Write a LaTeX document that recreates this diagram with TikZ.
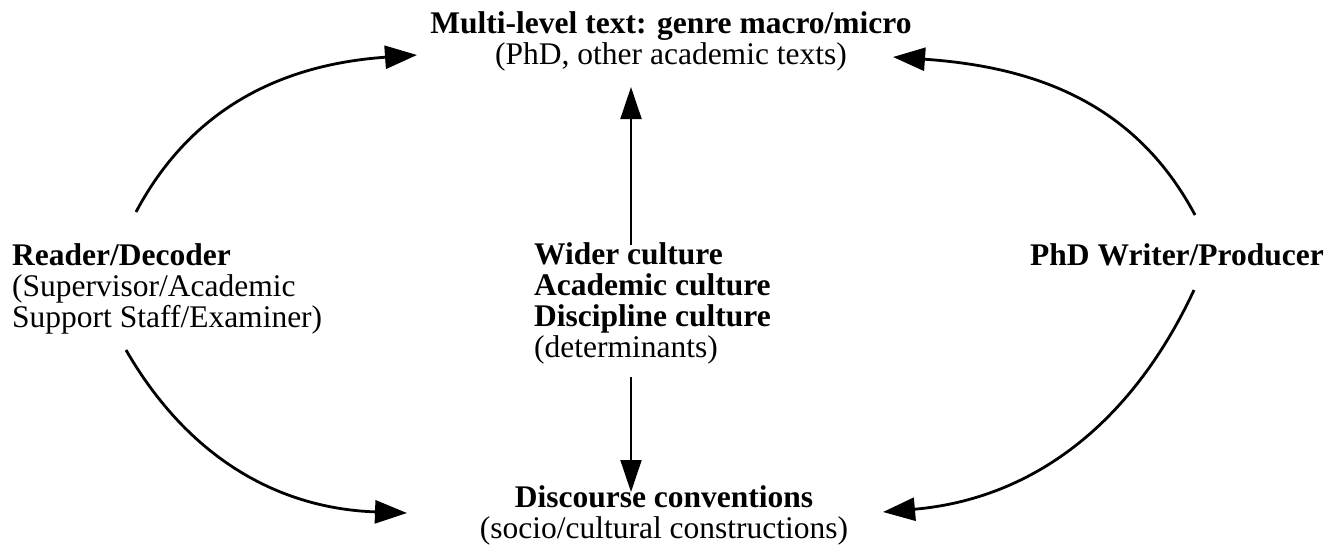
\documentclass[tikz,border=0pt]{standalone}
\usepackage{fontspec}
\setmainfont{Liberation Serif}
\usetikzlibrary{arrows.meta}

\tikzset{
  label text/.style={inner sep=0pt, font=\fontsize{31.5}{31}\selectfont},
  curved link/.style={line width=2.8pt, -{Triangle[length=32pt,width=23pt]}},
  straight link/.style={line width=2pt, -{Triangle[length=32pt,width=21pt]}}
}

\begin{document}
\begin{tikzpicture}[x=1pt,y=1pt]
\useasboundingbox (0,0) rectangle (1337,-554);

% text blocks (base anchor sits on the last line)
\node[label text, anchor=base, align=center] (top) at (671,-64)
  {\textbf{Multi-level text: genre macro/micro}\\(PhD, other academic texts)};
\node[label text, anchor=base west, align=left] (reader) at (12,-327)
  {\textbf{Reader/Decoder}\\(Supervisor/Academic\\Support Staff/Examiner)};
\node[label text, anchor=base west, align=left] (culture) at (534,-357)
  {\textbf{Wider culture}\\\textbf{Academic culture}\\\textbf{Discipline culture}\\(determinants)};
\node[label text, anchor=base west] (writer) at (1030,-265)
  {\textbf{PhD Writer/Producer}};
\node[label text, anchor=base, align=center] (bottom) at (664,-538)
  {\textbf{Discourse conventions}\\(socio/cultural constructions)};

% connector ends next to the text blocks
\coordinate (reader-up)    at (136,-212);
\coordinate (reader-down)  at (126,-350);
\coordinate (writer-up)    at (1195,-215);
\coordinate (writer-down)  at (1194,-290);
\coordinate (culture-up)   at (631,-245);
\coordinate (culture-down) at (631,-377);
\coordinate (top-left)     at (417,-55);
\coordinate (top-right)    at (893,-57);
\coordinate (top-mid)      at (631,-87);
\coordinate (bottom-left)  at (407,-513);
\coordinate (bottom-right) at (883,-512);
\coordinate (bottom-mid)   at (631,-492);

% connectors
\draw[curved link] (reader-up) to[out=62,in=184] (top-left);
\draw[curved link] (writer-up) to[out=118,in=-4] (top-right);
\draw[curved link] (reader-down) to[out=-60,in=178] (bottom-left);
\draw[curved link] (writer-down) to[out=-115,in=5] (bottom-right);
\draw[straight link] (culture-up) -- (top-mid);
\draw[straight link] (culture-down) -- (bottom-mid);
\end{tikzpicture}
\end{document}
